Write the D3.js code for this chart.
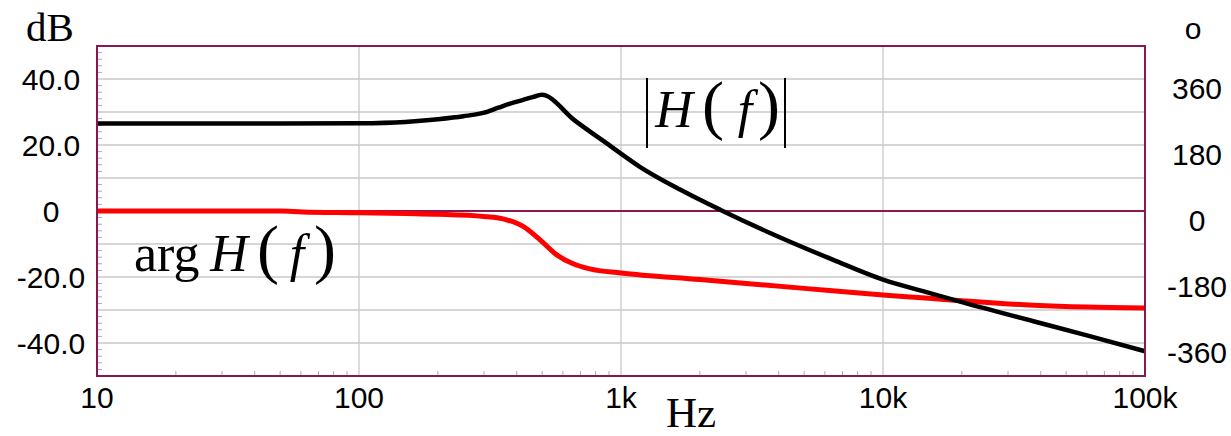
<!DOCTYPE html>
<html>
<head>
<meta charset="utf-8">
<script src="https://cdn.jsdelivr.net/npm/d3@7"></script>
<style>
  body { margin: 0; background: #fff; }
  .tick-label { font-family: "Liberation Sans", Arial, sans-serif; font-size: 30px; fill: #000; }
  .serif { font-family: "Liberation Serif", "Times New Roman", serif; fill: #000; }
</style>
</head>
<body>
<div id="chart"></div>
<script>
// frequency response
var freqs = [10, 50, 100, 150, 200, 250, 300, 340, 380, 420, 460, 498, 667, 907, 1180, 1679, 2389, 3597, 6457, 10000, 15000, 20000, 37500, 60000, 100000];
var magDb = [26.5, 26.5, 26.6, 27.0, 27.8, 28.7, 29.8, 31.3, 32.6, 33.6, 34.5, 35.2, 27.4, 19.8, 13.4, 6.5, 0.4, -6.2, -14.8, -20.8, -24.8, -27.6, -33.4, -37.7, -42.5];

var phaseFreqs = [10, 50, 61, 100, 150, 200, 300, 366, 423, 490, 567, 657, 760, 1000, 2000, 5000, 10000, 15000, 20000, 37500, 60000, 100000];
var phaseDeg = [0, 0, -2.5, -4.5, -7, -9, -15, -24, -42, -78, -119, -144, -158, -169, -187, -211, -229, -238, -245, -257, -262, -264.5];

var dbTicks = [40, 20, 0, -20, -40];
var dbTickLabels = ["40.0", "20.0", "0", "-20.0", "-40.0"];
var degTicks = [360, 180, 0, -180, -360];
var freqTicks = [10, 100, 1000, 10000, 100000];
var freqTickLabels = ["10", "100", "1k", "10k", "100k"];

var W = 1231, H = 436;
var m = [46, 86, 60, 97]; // top right bottom left
var w = W - m[1] - m[3], h = H - m[0] - m[2];
var frameColor = "#8a1850";

var x = d3.scaleLog().domain([10, 100000]).range([0, w]);
var y = d3.scaleLinear().domain([-50, 50]).range([h, 0]);
var yDeg = d3.scaleLinear().domain([-450, 450]).range([h, 0]);

var svg = d3.select("#chart").append("svg")
    .attr("width", W)
    .attr("height", H);

var g = svg.append("g")
    .attr("transform", "translate(" + m[3] + "," + m[0] + ")");

// grid
g.append("g").selectAll("line.hgrid")
  .data(d3.range(-40, 41, 10).filter(function(d) { return d !== 0; }))
  .enter().append("line")
  .attr("x1", 0).attr("x2", w)
  .attr("y1", function(d) { return y(d); })
  .attr("y2", function(d) { return y(d); })
  .attr("stroke", "#c8c8c8")
  .attr("stroke-width", 1.3);

g.append("g").selectAll("line.vgrid")
  .data([100, 1000, 10000])
  .enter().append("line")
  .attr("y1", 0).attr("y2", h)
  .attr("x1", function(d) { return x(d); })
  .attr("x2", function(d) { return x(d); })
  .attr("stroke", "#c8c8c8")
  .attr("stroke-width", 1.3);

// minor ticks, left side every 2 dB
g.append("g").selectAll("line")
  .data(d3.range(-48, 49, 2).filter(function(d) { return d % 10 !== 0; }))
  .enter().append("line")
  .attr("x1", 0).attr("x2", 5)
  .attr("y1", function(d) { return y(d); })
  .attr("y2", function(d) { return y(d); })
  .attr("stroke", "#aaa");

// minor ticks, bottom, 2..9 of each decade
var minorF = [];
[10, 100, 1000, 10000].forEach(function(dec) {
  for (var k = 2; k < 10; k++) minorF.push(dec * k);
});
g.append("g").selectAll("line")
  .data(minorF)
  .enter().append("line")
  .attr("y1", h).attr("y2", h - 5)
  .attr("x1", function(d) { return x(d); })
  .attr("x2", function(d) { return x(d); })
  .attr("stroke", "#aaa");

// zero line
g.append("line")
  .attr("x1", 0).attr("x2", w)
  .attr("y1", y(0)).attr("y2", y(0))
  .attr("stroke", frameColor)
  .attr("stroke-width", 2);

// curves
var phaseLine = d3.line()
  .x(function(d, i) { return x(phaseFreqs[i]); })
  .y(function(d) { return yDeg(d); })
  .curve(d3.curveMonotoneX);

var magLine = d3.line()
  .x(function(d, i) { return x(freqs[i]); })
  .y(function(d) { return y(d); })
  .curve(d3.curveMonotoneX);

g.append("path")
  .datum(phaseDeg)
  .attr("d", phaseLine)
  .attr("fill", "none")
  .attr("stroke", "#ff0000")
  .attr("stroke-width", 5);

g.append("path")
  .datum(magDb)
  .attr("d", magLine)
  .attr("fill", "none")
  .attr("stroke", "#000")
  .attr("stroke-width", 4.5);

// frame
g.append("rect")
  .attr("width", w).attr("height", h)
  .attr("fill", "none")
  .attr("stroke", frameColor)
  .attr("stroke-width", 2);

// left labels
svg.append("g").selectAll("text")
  .data(dbTicks)
  .enter().append("text")
  .attr("class", "tick-label")
  .attr("x", 51)
  .attr("y", function(d) { return m[0] + y(d); })
  .attr("dy", "0.36em")
  .attr("text-anchor", "middle")
  .text(function(d, i) { return dbTickLabels[i]; });

// right labels (degrees)
svg.append("g").selectAll("text")
  .data(degTicks)
  .enter().append("text")
  .attr("class", "tick-label")
  .attr("x", 1197)
  .attr("y", function(d) { return m[0] + yDeg(d) + 9; })
  .attr("dy", "0.36em")
  .attr("text-anchor", "middle")
  .text(function(d) { return d; });

// bottom labels
svg.append("g").selectAll("text")
  .data(freqTicks)
  .enter().append("text")
  .attr("class", "tick-label")
  .attr("x", function(d) { return m[3] + x(d); })
  .attr("y", 408)
  .attr("text-anchor", "middle")
  .text(function(d, i) { return freqTickLabels[i]; });

// units
svg.append("text").attr("class", "serif")
  .attr("x", 26).attr("y", 41)
  .attr("font-size", 41)
  .text("dB");

svg.append("text").attr("class", "tick-label")
  .attr("x", 1193).attr("y", 39)
  .attr("text-anchor", "middle")
  .attr("font-size", 27)
  .text("o");

svg.append("text").attr("class", "serif")
  .attr("x", 691).attr("y", 427)
  .attr("text-anchor", "middle")
  .attr("font-size", 43)
  .text("Hz");

// H(f) pieces, italic letters with tall upright parens
function fnLabel(parent, hx, px1, fx, px2, base) {
  parent.append("text").attr("class", "serif")
    .attr("x", hx).attr("y", base)
    .attr("text-anchor", "middle")
    .attr("font-size", 52).attr("font-style", "italic")
    .text("H");
  parent.append("text").attr("class", "serif")
    .attr("x", px1).attr("y", base)
    .attr("text-anchor", "middle")
    .attr("font-size", 66)
    .text("(");
  parent.append("text").attr("class", "serif")
    .attr("x", fx).attr("y", base)
    .attr("text-anchor", "middle")
    .attr("font-size", 52).attr("font-style", "italic")
    .text("f");
  parent.append("text").attr("class", "serif")
    .attr("x", px2).attr("y", base)
    .attr("text-anchor", "middle")
    .attr("font-size", 66)
    .text(")");
}

var magLabel = svg.append("g");
fnLabel(magLabel, 674, 713, 745, 769, 127);
[647, 785].forEach(function(bx) {
  magLabel.append("line")
    .attr("x1", bx).attr("x2", bx)
    .attr("y1", 78).attr("y2", 148)
    .attr("stroke", "#000")
    .attr("stroke-width", 2);
});

var argLabel = svg.append("g");
argLabel.append("text").attr("class", "serif")
  .attr("x", 134).attr("y", 271)
  .attr("font-size", 52)
  .text("arg");
fnLabel(argLabel, 229, 268, 297, 325, 271);
</script>
</body>
</html>
